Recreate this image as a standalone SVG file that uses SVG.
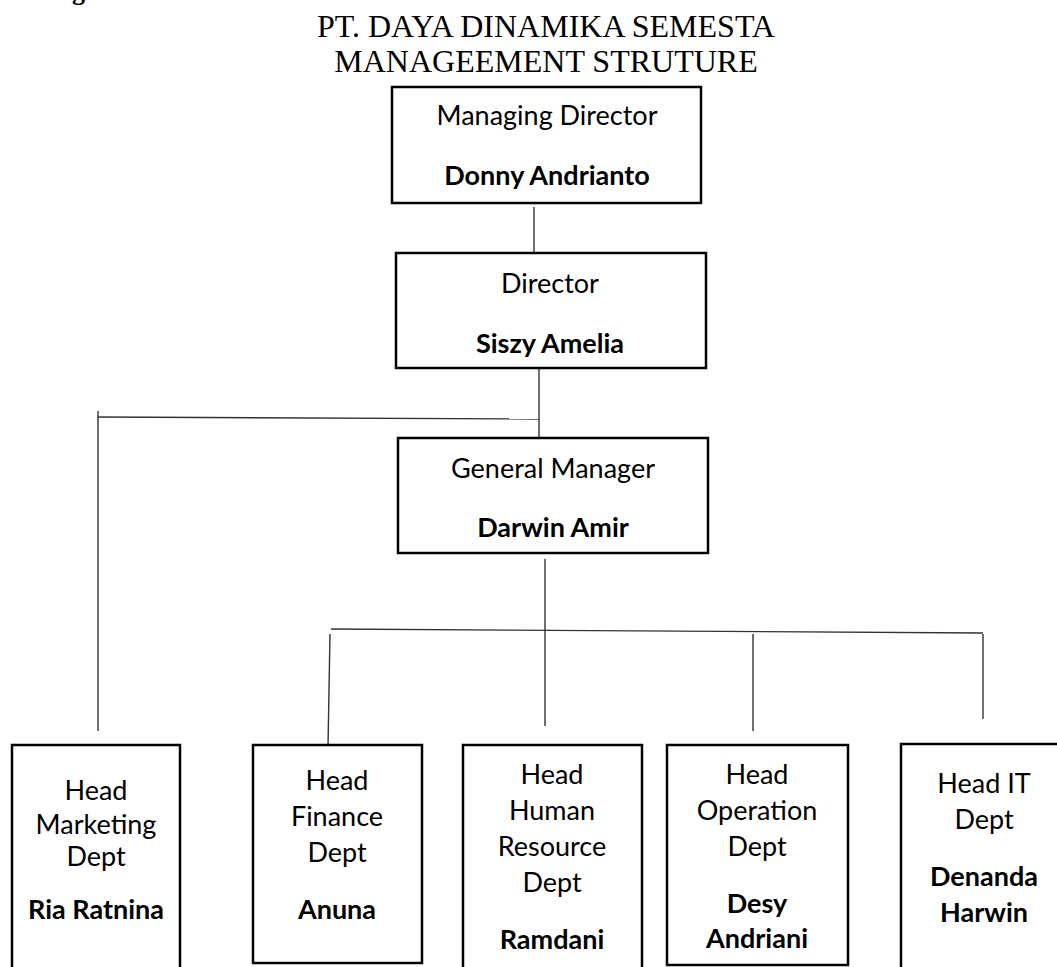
<svg xmlns="http://www.w3.org/2000/svg" width="1057" height="967" viewBox="0 0 1057 967">
<style>
.box{fill:#fff;stroke:#000;stroke-width:2.5}
.t{font-family:Lato,"Open Sans","Liberation Sans",sans-serif;font-size:27px;fill:#000;text-anchor:middle}
.b{font-weight:bold}
.ttl{font-family:"Liberation Serif","Times New Roman",serif;font-size:32px;fill:#000;text-anchor:middle}
.c{stroke:#333;stroke-width:1.4;fill:none}
</style>
<rect width="1057" height="967" fill="#fff"/>
<text x="72" y="0" font-family="'Liberation Serif',serif" font-size="26" font-weight="bold">g</text>
<g id="title">
<text class="ttl" x="546" y="37">PT. DAYA DINAMIKA SEMESTA</text>
<text class="ttl" x="546" y="72">MANAGEEMENT STRUTURE</text>
</g>
<g id="connectors">
<line class="c" x1="534" y1="207" x2="534" y2="253"/>
<line class="c" x1="539" y1="369" x2="539" y2="451"/>
<line class="c" x1="98" y1="417" x2="539" y2="419"/>
<line class="c" x1="98" y1="411" x2="98" y2="731"/>
<line class="c" x1="545" y1="559" x2="545" y2="726"/>
<line class="c" x1="331" y1="629" x2="983" y2="633"/>
<line class="c" x1="330" y1="634" x2="328" y2="747"/>
<line class="c" x1="753" y1="634" x2="753" y2="731"/>
<line class="c" x1="983" y1="634" x2="983" y2="719"/>
</g>
<g id="managing-director">
<rect class="box" x="392" y="87" width="309" height="116"/>
<text class="t" x="547" y="125">Managing Director</text>
<text class="t b" x="547" y="185">Donny Andrianto</text>
</g>
<g id="director">
<rect class="box" x="396" y="253" width="310" height="115"/>
<text class="t" x="550" y="293">Director</text>
<text class="t b" x="550" y="353">Siszy Amelia</text>
</g>
<g id="general-manager">
<rect class="box" x="398" y="438" width="310" height="115"/>
<text class="t" x="553" y="478">General Manager</text>
<text class="t b" x="553" y="537">Darwin Amir</text>
</g>
<g id="marketing">
<rect class="box" x="12" y="745" width="168" height="240"/>
<text class="t" x="96" y="800">Head</text>
<text class="t" x="96" y="834">Marketing</text>
<text class="t" x="96" y="866">Dept</text>
<text class="t b" x="96" y="919">Ria Ratnina</text>
</g>
<g id="finance">
<rect class="box" x="253" y="745" width="169" height="218"/>
<text class="t" x="337" y="790">Head</text>
<text class="t" x="337" y="826">Finance</text>
<text class="t" x="337" y="862">Dept</text>
<text class="t b" x="337" y="919">Anuna</text>
</g>
<g id="human-resource">
<rect class="box" x="463" y="745" width="179" height="240"/>
<text class="t" x="552" y="784">Head</text>
<text class="t" x="552" y="820">Human</text>
<text class="t" x="552" y="856">Resource</text>
<text class="t" x="552" y="892">Dept</text>
<text class="t b" x="552" y="949">Ramdani</text>
</g>
<g id="operation">
<rect class="box" x="667" y="745" width="181" height="220"/>
<text class="t" x="757" y="784">Head</text>
<text class="t" x="757" y="820">Operation</text>
<text class="t" x="757" y="856">Dept</text>
<text class="t b" x="757" y="913">Desy</text>
<text class="t b" x="757" y="948">Andriani</text>
</g>
<g id="it">
<rect class="box" x="901" y="744" width="166" height="240"/>
<text class="t" x="984" y="793">Head IT</text>
<text class="t" x="984" y="829">Dept</text>
<text class="t b" x="984" y="886">Denanda</text>
<text class="t b" x="984" y="922">Harwin</text>
</g>
</svg>
